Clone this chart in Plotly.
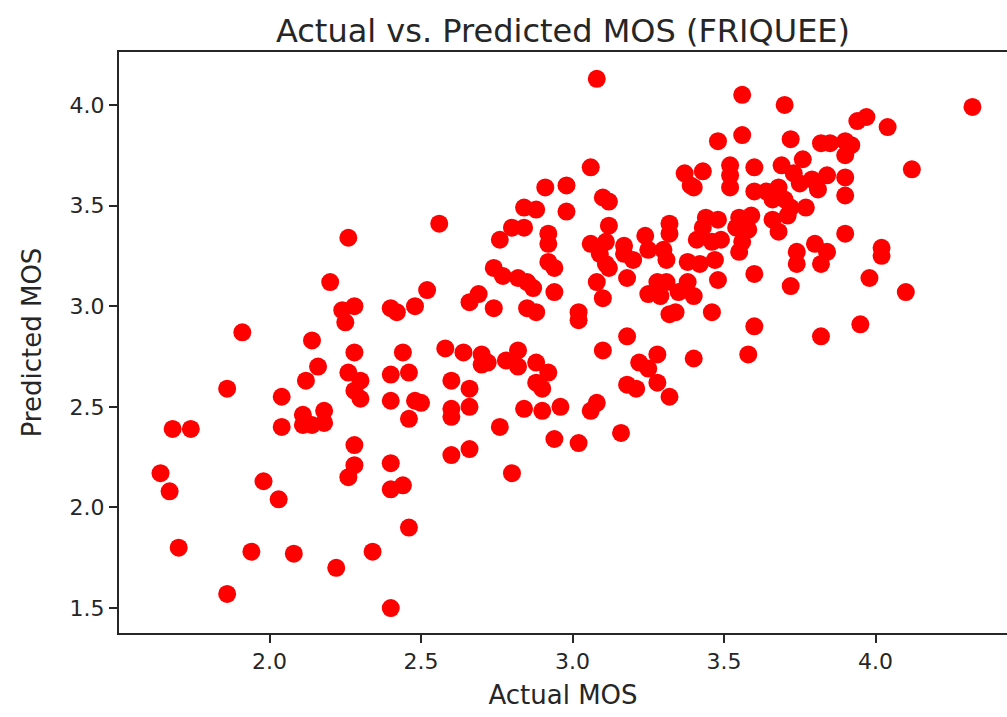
import plotly.graph_objects as go

# Actual MOS (x) and Predicted MOS (y)
actual_mos = [
    1.68, 1.74, 1.64, 1.67, 1.98, 2.03, 1.70, 1.94, 2.08, 2.22, 1.86, 2.04, 2.11, 2.11, 2.14, 2.18, 2.18,
    2.20, 2.24, 2.25, 1.91, 2.14, 2.16, 2.12, 1.86, 2.04,
    2.91, 2.98, 2.84, 2.88, 2.98, 2.56, 2.26, 2.80, 2.84, 2.76, 2.92, 2.92, 2.74, 2.77, 2.82, 2.85, 2.87,
    2.92, 2.94, 2.94, 2.52, 2.28, 2.40, 2.42, 2.48, 2.69, 2.66, 2.74, 2.85, 2.88, 3.02, 3.02, 2.28, 2.44,
    2.58, 2.64, 2.70, 2.72, 2.70, 2.78, 2.82, 2.82, 2.88, 2.92, 2.88, 2.90, 2.26, 2.30, 2.28, 2.30, 2.40,
    2.46, 2.60, 2.66, 2.40, 2.48, 2.50, 2.66, 2.60, 2.84, 2.90, 2.96,
    2.60, 2.46, 2.76, 2.94, 3.02, 2.28, 2.28, 2.26, 2.40, 2.40, 2.44, 2.60, 2.66, 2.80, 2.46, 2.34, 2.40,
    3.08, 3.56, 3.70, 3.48, 3.56, 3.72, 3.06, 3.37, 3.43, 3.39, 3.40, 3.52, 3.52, 3.52, 3.60, 3.69, 3.10,
    3.12, 3.60, 3.64, 3.68, 3.66, 3.70, 3.12, 3.06, 3.11, 3.17, 3.17, 3.24, 3.25, 3.32, 3.32, 3.30, 3.44,
    3.48, 3.43, 3.41, 3.46, 3.49, 3.55, 3.59, 3.54, 3.58, 3.56, 3.55, 3.66, 3.68,
    3.09, 3.11, 3.12, 3.20, 3.31, 3.38, 3.42, 3.47, 3.60, 3.48, 3.72, 3.08, 3.10, 3.18, 3.28, 3.31, 3.25,
    3.29, 3.35, 3.38, 3.40, 3.32, 3.34, 3.46, 3.60, 3.18, 3.10, 3.28, 3.40, 3.58, 3.22, 3.25, 3.18, 3.21,
    3.28, 3.32, 3.08, 3.06, 3.16,
    4.32, 3.94, 3.97, 4.04, 3.82, 3.85, 3.90, 3.92, 3.90, 4.12, 3.76, 3.73, 3.75, 3.79, 3.84, 3.81, 3.90,
    3.90, 3.72, 3.71, 3.77, 3.90, 3.74, 3.80, 3.84, 4.02, 4.02,
    3.74, 3.82, 3.98, 4.10, 3.95, 3.82,
]
predicted_mos = [
    2.39, 2.39, 2.17, 2.08, 2.13, 2.04, 1.80, 1.78, 1.77, 1.70, 1.57, 2.40, 2.46, 2.41, 2.41, 2.42, 2.48,
    3.12, 2.98, 2.92, 2.87, 2.83, 2.70, 2.63, 2.59, 2.55,
    3.59, 3.60, 3.49, 3.48, 3.47, 3.41, 3.34, 3.39, 3.39, 3.33, 3.36, 3.31, 3.19, 3.15, 3.14, 3.12, 3.09,
    3.22, 3.19, 3.07, 3.08, 3.00, 2.99, 2.97, 3.00, 3.06, 3.02, 2.99, 2.99, 2.97, 2.97, 2.93, 2.77, 2.77,
    2.79, 2.77, 2.76, 2.72, 2.71, 2.73, 2.78, 2.70, 2.72, 2.67, 2.62, 2.59, 2.67, 2.63, 2.58, 2.54, 2.66,
    2.67, 2.63, 2.59, 2.53, 2.53, 2.52, 2.50, 2.49, 2.49, 2.48, 2.50,
    2.45, 2.44, 2.40, 2.34, 2.32, 2.31, 2.21, 2.15, 2.22, 2.09, 2.11, 2.26, 2.29, 2.17, 1.90, 1.78, 1.50,
    4.13, 4.05, 4.00, 3.82, 3.85, 3.83, 3.69, 3.66, 3.67, 3.60, 3.59, 3.70, 3.65, 3.59, 3.69, 3.70, 3.54,
    3.52, 3.57, 3.57, 3.59, 3.53, 3.53, 3.40, 3.31, 3.32, 3.30, 3.26, 3.35, 3.28, 3.41, 3.36, 3.28, 3.44,
    3.43, 3.39, 3.33, 3.32, 3.33, 3.44, 3.45, 3.39, 3.38, 3.32, 3.27, 3.43, 3.37,
    3.26, 3.21, 3.19, 3.23, 3.23, 3.22, 3.21, 3.23, 3.16, 3.13, 3.10, 3.12, 3.04, 3.14, 3.12, 3.12, 3.06,
    3.05, 3.07, 3.12, 3.05, 2.96, 2.97, 2.97, 2.90, 2.85, 2.78, 2.76, 2.74, 2.76, 2.72, 2.69, 2.61, 2.59,
    2.62, 2.55, 2.52, 2.48, 2.37,
    3.99, 3.92, 3.94, 3.89, 3.81, 3.81, 3.82, 3.80, 3.75, 3.68, 3.73, 3.66, 3.61, 3.63, 3.65, 3.58, 3.64,
    3.55, 3.49, 3.45, 3.49, 3.36, 3.27, 3.31, 3.27, 3.29, 3.25,
    3.21, 3.21, 3.14, 3.07, 2.91, 2.85,
]

x_ticks = [2.0, 2.5, 3.0, 3.5, 4.0]
y_ticks = [1.5, 2.0, 2.5, 3.0, 3.5, 4.0]

FONT = "DejaVu Sans"
INK = "#262626"

fig = go.Figure(
    go.Scatter(
        x=actual_mos,
        y=predicted_mos,
        mode="markers",
        marker=dict(size=18, color="#ff0000", line=dict(width=0)),
        showlegend=False,
    )
)

fig.update_layout(
    width=1007,
    height=717,
    margin=dict(l=119, r=0, t=52, b=84),
    paper_bgcolor="white",
    plot_bgcolor="white",
    font=dict(family=FONT, color=INK),
    title=dict(
        text="Actual vs. Predicted MOS (FRIQUEE)",
        font=dict(family=FONT, size=32, color=INK),
        x=0.5,
        xanchor="center",
        xref="paper",
        y=0.957,
        yanchor="middle",
        yref="container",
    ),
)

fig.update_xaxes(
    range=[1.503, 4.434],
    tickvals=x_ticks,
    ticktext=[f"{v:.1f}" for v in x_ticks],
    ticks="outside",
    ticklen=8,
    tickwidth=1.5,
    tickcolor=INK,
    tickfont=dict(family=FONT, size=22, color=INK),
    showgrid=False,
    zeroline=False,
    showline=True,
    linecolor=INK,
    linewidth=2,
    mirror=True,
    title=dict(text="Actual MOS", font=dict(family=FONT, size=26, color=INK), standoff=12),
)

fig.update_yaxes(
    range=[1.376, 4.263],
    tickvals=y_ticks,
    ticktext=[f"{v:.1f}" for v in y_ticks],
    ticks="outside",
    ticklen=8,
    tickwidth=1.5,
    tickcolor=INK,
    tickfont=dict(family=FONT, size=22, color=INK),
    showgrid=False,
    zeroline=False,
    showline=True,
    linecolor=INK,
    linewidth=2,
    mirror=False,
    title=dict(text="Predicted MOS", font=dict(family=FONT, size=26, color=INK), standoff=20),
)

fig.write_html(
    "out.html",
    config={"displayModeBar": False},
    post_script="document.body.style.margin='0px';document.body.style.overflow='hidden';",
)
